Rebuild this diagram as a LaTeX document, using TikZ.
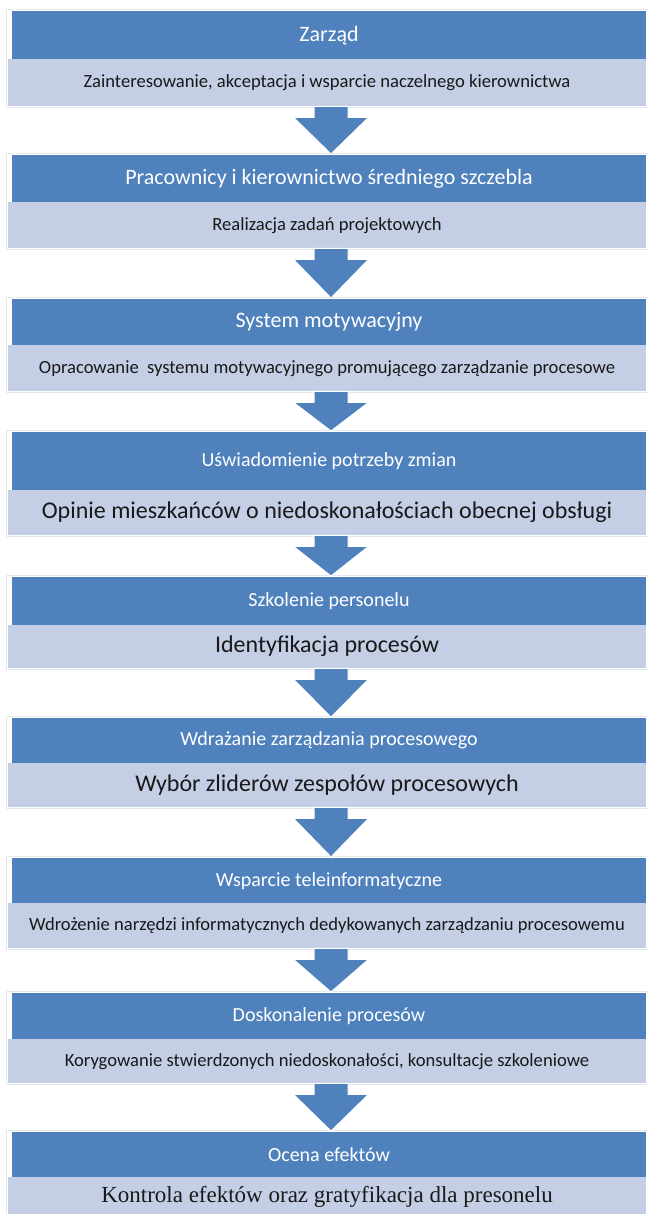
\documentclass[tikz,border=0pt]{standalone}
\usepackage{fontspec}
\setmainfont{Carlito}
\newfontfamily\timesf{Liberation Serif}
\usetikzlibrary{calc}
\definecolor{hblue}{HTML}{4F81BD}
\definecolor{sublav}{HTML}{C4CFE5}
\definecolor{frame}{HTML}{E4E7EC}
\tikzset{
  hdr/.style={rectangle, fill=hblue, text=white, anchor=north, minimum width=634pt, inner sep=0pt, font=\fontsize{#1}{#1}\selectfont},
  sub/.style={rectangle, fill=sublav, text=black!90, anchor=north, minimum width=638pt, inner sep=0pt, font=\fontsize{#1}{#1}\selectfont},
  barrow/.style={fill=hblue, draw=white, line width=1pt, line join=miter},
  frm/.style={draw=frame, line width=0.8pt, fill=none}
}
\newcommand{\blockarrow}[2]{%
  \draw[barrow] let \p1=(#1.south), \p2=(#2.north) in
    (\x2+2pt-17pt,\y1) -- (\x2+2pt+17pt,\y1) -- (\x2+2pt+17pt,\y1-11pt)
    -- (\x2+2pt+37.5pt,\y1-11pt) -- (\x2+2pt,\y2+1pt) -- (\x2+2pt-37.5pt,\y1-11pt)
    -- (\x2+2pt-17pt,\y1-11pt) -- cycle;}
\newcommand{\stage}[9]{% name, top, hdrH, subH, hdrsize, subsize, hdrtext, subtext, extra font
  \draw[frm] (6.5,#2-1.5) rectangle (650,#2+#3+#4+1);
  \node[hdr=#5, minimum height=#3pt] (h#1) at (329,#2) {#7};
  \node[sub=#6, minimum height=#4pt] (s#1) at (327,#2+#3) {#9#8};
}
\begin{document}
\begin{tikzpicture}[x=1pt,y=-1pt]
\useasboundingbox[fill=white] (0,0) rectangle (646,1214);
\stage{1}{11}{48}{47}{22}{18.6}{Zarząd}{Zainteresowanie, akceptacja i wsparcie naczelnego kierownictwa}{}
\stage{2}{155}{47}{46}{22}{18.6}{Pracownicy i kierownictwo średniego szczebla}{Realizacja zadań projektowych}{}
\stage{3}{299}{46}{46}{22}{18.6}{System motywacyjny}{Opracowanie\ \ systemu motywacyjnego promującego zarządzanie procesowe}{}
\stage{4}{432}{58}{45}{20}{24}{Uświadomienie potrzeby zmian}{Opinie mieszkańców o niedoskonałościach obecnej obsługi}{}
\stage{5}{577}{48}{43}{20}{24}{Szkolenie personelu}{Identyfikacja procesów}{}
\stage{6}{718}{45}{44}{20}{24}{Wdrażanie zarządzania procesowego}{Wybór zliderów zespołów procesowych}{}
\stage{7}{858}{45}{45}{20}{18.6}{Wsparcie teleinformatyczne}{Wdrożenie narzędzi informatycznych dedykowanych zarządzaniu procesowemu}{}
\stage{8}{993}{46}{44}{20}{18.6}{Doskonalenie procesów}{Korygowanie stwierdzonych niedoskonałości, konsultacje szkoleniowe}{}
\stage{9}{1132}{45}{40}{20}{23}{Ocena efektów}{Kontrola efektów oraz gratyfikacja dla presonelu}{\timesf}
\blockarrow{s1}{h2}
\blockarrow{s2}{h3}
\blockarrow{s3}{h4}
\blockarrow{s4}{h5}
\blockarrow{s5}{h6}
\blockarrow{s6}{h7}
\blockarrow{s7}{h8}
\blockarrow{s8}{h9}
\end{tikzpicture}
\end{document}
